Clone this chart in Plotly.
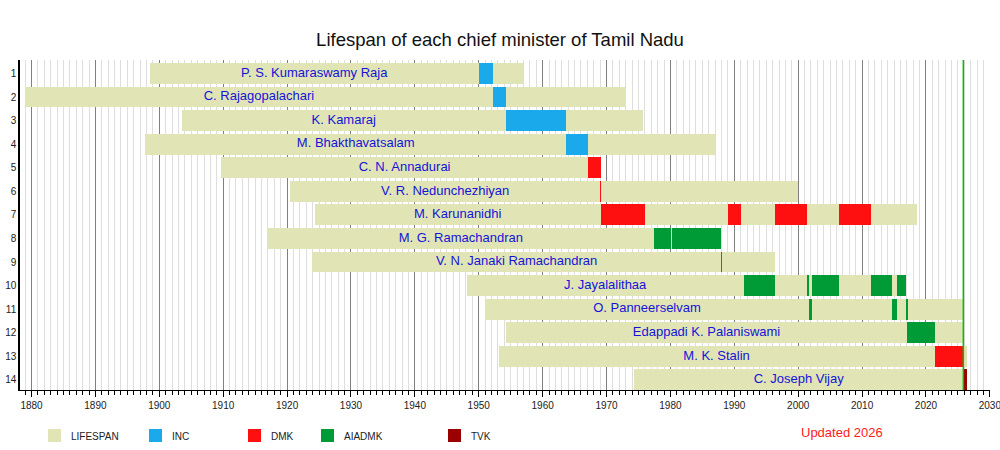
import plotly.graph_objects as go

# chief ministers, in order (row 1 at top)
names = [
    "P. S. Kumaraswamy Raja", "C. Rajagopalachari", "K. Kamaraj",
    "M. Bhakthavatsalam", "C. N. Annadurai", "V. R. Nedunchezhiyan",
    "M. Karunanidhi", "M. G. Ramachandran", "V. N. Janaki Ramachandran",
    "J. Jayalalithaa", "O. Panneerselvam", "Edappadi K. Palaniswami",
    "M. K. Stalin", "C. Joseph Vijay",
]
rows = list(range(1, 15))
born = [1898.5, 1878.94, 1903.54, 1897.8, 1909.7, 1920.45, 1924.3, 1917.0,
        1923.9, 1948.12, 1950.95, 1954.2, 1953.1, 1974.3]
died = [1957.1, 1972.95, 1975.75, 1987.1, 1969.1, 1999.95, 2018.6, 1987.9,
        1996.4, 2016.93, 2025.85, 2025.85, 2026.35, 2026.35]

# terms in office: (row, start, end)
inc_rows = [1, 2, 3, 4]
inc_start = [1950.0, 1952.27, 1954.2, 1963.7]
inc_end = [1952.27, 1954.2, 1963.7, 1967.1]

dmk_rows = [5, 6, 7, 7, 7, 7, 13]
dmk_start = [1967.1, 1969.05, 1969.1, 1989.05, 1996.37, 2006.37, 2021.35]
dmk_end = [1969.1, 1969.12, 1976.0, 1991.0, 2001.37, 2011.37, 2025.85]

aiadmk_rows = [8, 8, 9, 10, 10, 10, 10, 10, 11, 11, 11, 12]
aiadmk_start = [1977.4, 1980.3, 1987.95, 1991.45, 2001.37, 2002.17, 2011.37,
                2015.39, 2001.72, 2014.74, 2016.93, 2017.1]
aiadmk_end = [1980.05, 1987.9, 1988.05, 1996.37, 2001.72, 2006.37, 2014.74,
              2016.93, 2002.17, 2015.39, 2017.1, 2021.35]

tvk_rows = [14]
tvk_start = [2025.85]
tvk_end = [2026.35]

first_term = [1950.0, 1952.27, 1954.2, 1963.7, 1967.1, 1969.05, 1969.1,
              1977.4, 1987.95, 1991.45, 2001.72, 2017.1, 2021.35, 2025.85]

now_year = 2025.85

parties = [
    ("LIFESPAN", "#E1E5B6"),
    ("INC", "#1AA9EA"),
    ("DMK", "#FF1010"),
    ("AIADMK", "#009A36"),
    ("TVK", "#9A0000"),
]
colors = dict(parties)

BAR_W = 0.88

fig = go.Figure()

fig.add_trace(go.Bar(
    y=rows, base=born, x=[d - b for b, d in zip(born, died)],
    orientation="h", width=BAR_W,
    marker=dict(color=colors["LIFESPAN"], line=dict(width=0)),
    showlegend=False, hoverinfo="skip",
))

for party, r, s, e in [
    ("INC", inc_rows, inc_start, inc_end),
    ("DMK", dmk_rows, dmk_start, dmk_end),
    ("AIADMK", aiadmk_rows, aiadmk_start, aiadmk_end),
    ("TVK", tvk_rows, tvk_start, tvk_end),
]:
    fig.add_trace(go.Bar(
        y=r, base=s, x=[b - a for a, b in zip(s, e)],
        orientation="h", width=BAR_W,
        marker=dict(color=colors[party], line=dict(width=0)),
        showlegend=False, hoverinfo="skip",
    ))

# names, centred between birth and first term
fig.add_trace(go.Scatter(
    x=[(b + f) / 2 for b, f in zip(born, first_term)], y=rows,
    mode="text", text=names,
    textfont=dict(family="Liberation Sans, Arial", size=13, color="#1414D8"),
    showlegend=False, hoverinfo="skip",
))

# "now" line
fig.add_shape(type="line", xref="x", yref="paper", x0=now_year, x1=now_year,
              y0=0, y1=1, line=dict(color="#00C000", width=1.5), layer="above")

# hand-placed legend under the plot
legend_px = [48, 149, 248, 321, 448]
plot_l, plot_w = 20, 970
plot_b, plot_h = 390, 330
for (label, col), px in zip(parties, legend_px):
    fig.add_shape(type="rect", xref="paper", yref="paper",
                  x0=(px - plot_l) / plot_w, x1=(px + 13 - plot_l) / plot_w,
                  y0=(plot_b - 429) / plot_h, y1=(plot_b - 442) / plot_h,
                  fillcolor=col, line=dict(width=0))
    fig.add_annotation(xref="paper", yref="paper",
                       x=(px + 21 - plot_l) / plot_w, y=(plot_b - 436) / plot_h,
                       text=label, showarrow=False, xanchor="left",
                       yanchor="middle",
                       font=dict(size=10, color="#222222"))

fig.add_annotation(xref="paper", yref="paper", x=(885 - plot_l) / plot_w,
                   y=(plot_b - 432) / plot_h, yanchor="middle",
                   text="Updated 2026", showarrow=False,
                   font=dict(size=13, color="#FF1A1A"))

fig.update_layout(
    title=dict(text="Lifespan of each chief minister of Tamil Nadu",
               x=0.5, xanchor="center", y=1 - 40 / 450, yanchor="middle",
               font=dict(size=18.5, color="#111111")),
    width=1000, height=450,
    margin=dict(l=20, r=10, t=60, b=60),
    paper_bgcolor="white", plot_bgcolor="white",
    font=dict(family="Liberation Sans, Arial", color="#222222"),
    barmode="overlay",
    bargap=0,
    xaxis=dict(
        range=[1878.2, 2030.02], dtick=10, tick0=1880,
        showgrid=True, gridcolor="#808080", gridwidth=1,
        ticks="outside", ticklen=6, tickcolor="#000000",
        showline=True, linecolor="#000000", linewidth=1,
        tickfont=dict(size=10, color="#222222"),
        ticklabeloverflow="allow",
        zeroline=False, automargin=False,
        minor=dict(dtick=1, showgrid=True, gridcolor="#DEDEDE", gridwidth=1,
                   ticks="outside", ticklen=4, tickcolor="#000000"),
    ),
    yaxis=dict(
        range=[14.43, 0.43], tickvals=rows, ticktext=[str(r) for r in rows],
        showgrid=False, zeroline=False, automargin=False,
        showline=True, linecolor="#000000", linewidth=1.5,
        tickfont=dict(size=10, color="#222222"),
    ),
)

# drop the browser's default 8px body margin so the figure sits at 0,0
fig.write_html("out.html",
               config={"displayModeBar": False},
               post_script="document.body.style.margin='0';"
                           "document.body.style.overflow='hidden';")
